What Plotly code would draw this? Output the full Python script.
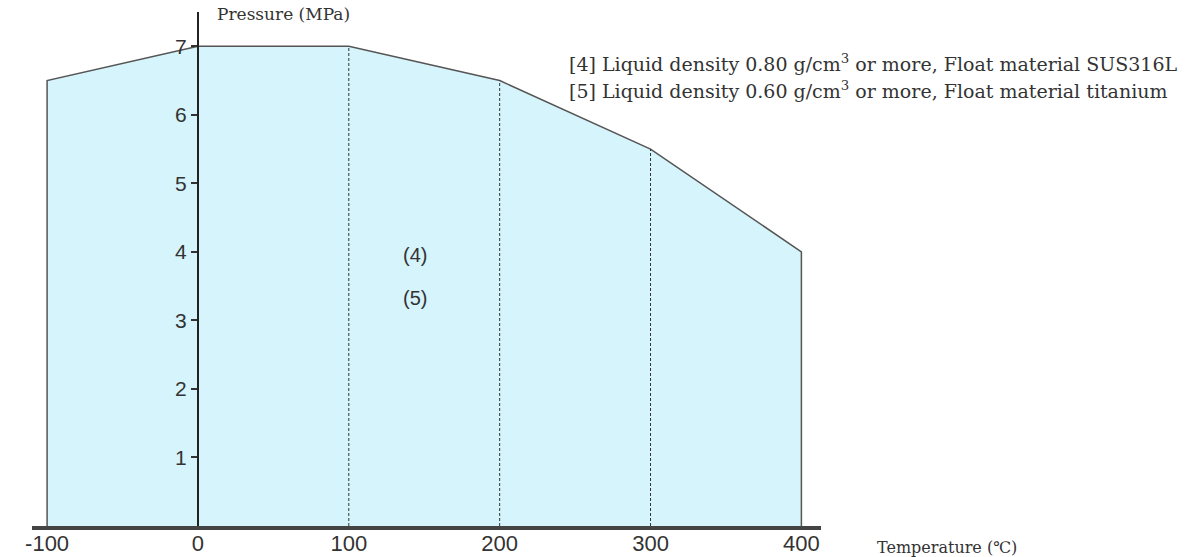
import plotly.graph_objects as go

temps = [-100, 0, 100, 200, 300, 400]
pressures = [6.5, 7.0, 7.0, 6.5, 5.5, 4.0]
x_ticks = [-100, 0, 100, 200, 300, 400]
y_ticks = [1, 2, 3, 4, 5, 6, 7]
dashed_at = [100, 200, 300]
legend_lines = [
    "[4] Liquid density 0.80 g/cm<sup>3</sup> or more, Float material SUS316L",
    "[5] Liquid density 0.60 g/cm<sup>3</sup> or more, Float material titanium",
]
region_labels = ["(4)", "(5)"]

XMIN, XMAX = -110, 413
YMIN, YMAX = 0, 7.5
FILL = "#d6f4fb"
EDGE = "#555555"

fig = go.Figure()

poly_x = [temps[0]] + temps + [temps[-1]]
poly_y = [0] + pressures + [0]
fig.add_trace(go.Scatter(x=poly_x, y=poly_y, mode="lines", fill="toself",
                         fillcolor=FILL, line=dict(color=EDGE, width=1.5),
                         hoverinfo="skip", showlegend=False))

for xv in dashed_at:
    yv = pressures[temps.index(xv)]
    fig.add_trace(go.Scatter(x=[xv, xv], y=[0, yv], mode="lines",
                             line=dict(color="#333333", width=1, dash="3px,2px"),
                             hoverinfo="skip", showlegend=False))

pos = (0 - XMIN) / (XMAX - XMIN)
sans = "Liberation Sans, Arial, sans-serif"
serif = "DejaVu Serif, serif"

fig.update_layout(
    width=1194, height=557,
    margin=dict(l=32, r=373, t=12, b=31),
    paper_bgcolor="white", plot_bgcolor="white",
    xaxis=dict(range=[XMIN, XMAX], tickvals=x_ticks, ticktext=[str(v) for v in x_ticks],
               showgrid=False, zeroline=False, showline=True, linecolor="#444444",
               linewidth=4, ticks="", automargin=False, ticklabelstandoff=-5,
               tickfont=dict(family=sans, size=22, color="#333333")),
    yaxis=dict(range=[YMIN, YMAX], tickvals=y_ticks, showgrid=False, zeroline=False,
               showline=True, linecolor="#222222", linewidth=2, anchor="free", position=pos,
               ticks="outside", ticklen=6, tickcolor="#333333", tickwidth=1.5, automargin=False,
               tickfont=dict(family=sans, size=21, color="#333333")),
)

fig.add_annotation(x=0, y=YMAX, xref="x", yref="y", text="Pressure (MPa)", showarrow=False,
                   xanchor="left", yanchor="middle", xshift=17, yshift=-2,
                   font=dict(family=serif, size=17, color="#333333"))
fig.add_annotation(x=1.0, y=0, xref="paper", yref="y", text="Temperature (℃)", showarrow=False,
                   xanchor="left", yanchor="middle", xshift=54, yshift=-21,
                   font=dict(family=serif, size=16, color="#333333"))
for i, t in enumerate(legend_lines):
    fig.add_annotation(x=1.0, y=1.0, xref="paper", yref="paper", text=t, showarrow=False,
                       xanchor="left", yanchor="middle", xshift=-254, yshift=-51 - 27 * i,
                       font=dict(family=serif, size=19, color="#333333"))
for i, t in enumerate(region_labels):
    fig.add_annotation(x=144, y=3.95 - 0.62 * i, xref="x", yref="y", text=t, showarrow=False,
                       xanchor="center", yanchor="middle",
                       font=dict(family=sans, size=20, color="#333333"))

fig.write_html("out.html", config={"displayModeBar": False},
               post_script="document.body.style.margin='0';document.body.style.overflow='hidden';")
